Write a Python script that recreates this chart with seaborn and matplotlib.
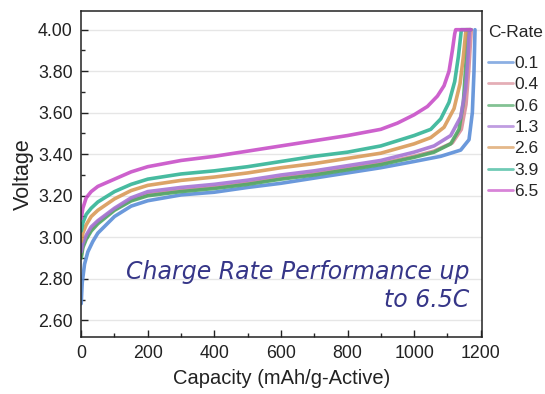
import numpy as np
import pandas as pd
import matplotlib
matplotlib.use("Agg")
import matplotlib.pyplot as plt
import seaborn as sns
from matplotlib.ticker import MultipleLocator, FormatStrFormatter

rates = ["0.1", "0.4", "0.6", "1.3", "2.6", "3.9", "6.5"]
colors = ["#5b8ed8", "#d98c98", "#4fa866", "#a574d4", "#d99a58", "#33b496", "#c850c8"]

cap_01 = [0, 3, 10, 20, 35, 50, 100, 150, 200, 300, 400, 500, 600, 700, 800, 900, 1000, 1080, 1140, 1165, 1175, 1180, 1183]
v_01 = [2.68, 2.78, 2.87, 2.93, 2.98, 3.02, 3.10, 3.15, 3.176, 3.204, 3.217, 3.24, 3.26, 3.285, 3.31, 3.335, 3.365, 3.39, 3.42, 3.47, 3.60, 3.80, 4.00]

cap_04 = [0, 5, 15, 30, 50, 100, 150, 200, 300, 400, 500, 600, 700, 800, 900, 1000, 1060, 1115, 1142, 1156, 1164, 1169, 1172]
v_04 = [2.91, 2.96, 3.00, 3.04, 3.075, 3.135, 3.18, 3.205, 3.225, 3.24, 3.26, 3.285, 3.305, 3.33, 3.355, 3.39, 3.415, 3.455, 3.52, 3.64, 3.80, 3.93, 4.00]

cap_06 = [0, 5, 15, 30, 50, 100, 150, 200, 300, 400, 500, 600, 700, 800, 900, 1000, 1060, 1110, 1135, 1148, 1155, 1160, 1163]
v_06 = [2.90, 2.95, 2.99, 3.03, 3.065, 3.13, 3.175, 3.20, 3.22, 3.235, 3.255, 3.28, 3.30, 3.325, 3.35, 3.385, 3.41, 3.45, 3.52, 3.65, 3.82, 3.95, 4.00]

cap_13 = [0, 5, 15, 30, 50, 100, 150, 200, 300, 400, 500, 600, 700, 800, 900, 1000, 1060, 1110, 1140, 1155, 1162, 1166, 1172]
v_13 = [2.93, 2.97, 3.01, 3.05, 3.08, 3.14, 3.19, 3.22, 3.24, 3.255, 3.275, 3.30, 3.32, 3.345, 3.37, 3.41, 3.44, 3.49, 3.58, 3.72, 3.87, 4.00, 4.00]

cap_26 = [0, 5, 15, 30, 50, 100, 150, 200, 300, 400, 500, 600, 700, 800, 900, 1000, 1050, 1090, 1120, 1138, 1148, 1154, 1156, 1170]
v_26 = [2.98, 3.02, 3.06, 3.10, 3.13, 3.185, 3.225, 3.25, 3.274, 3.29, 3.31, 3.335, 3.355, 3.38, 3.405, 3.45, 3.48, 3.53, 3.62, 3.74, 3.87, 3.97, 4.00, 4.00]

cap_39 = [0, 5, 15, 30, 50, 100, 150, 200, 300, 400, 500, 600, 700, 800, 900, 1000, 1050, 1080, 1105, 1122, 1133, 1140, 1142, 1170]
v_39 = [3.03, 3.07, 3.11, 3.14, 3.17, 3.22, 3.255, 3.28, 3.305, 3.32, 3.34, 3.365, 3.39, 3.41, 3.44, 3.49, 3.52, 3.57, 3.65, 3.75, 3.87, 3.97, 4.00, 4.00]

cap_65 = [0, 5, 15, 30, 50, 100, 150, 200, 300, 400, 500, 600, 700, 800, 900, 950, 1000, 1040, 1070, 1090, 1105, 1115, 1122, 1125, 1170]
v_65 = [3.09, 3.14, 3.19, 3.22, 3.245, 3.28, 3.315, 3.34, 3.37, 3.39, 3.415, 3.44, 3.465, 3.49, 3.52, 3.55, 3.59, 3.63, 3.68, 3.73, 3.80, 3.90, 3.98, 4.00, 4.00]

caps = [cap_01, cap_04, cap_06, cap_13, cap_26, cap_39, cap_65]
volts = [v_01, v_04, v_06, v_13, v_26, v_39, v_65]

frames = []
for r, c, v in zip(rates, caps, volts):
    frames.append(pd.DataFrame({"Capacity": c, "Voltage": v, "C-Rate": r}))
df = pd.concat(frames, ignore_index=True)

sns.set_style("ticks")
plt.rcParams["font.family"] = ["Liberation Sans", "DejaVu Sans"]

fig = plt.figure(figsize=(5.45, 3.94), dpi=100)
ax = fig.add_axes([0.149, 0.145, 0.736, 0.827])

sns.lineplot(data=df, x="Capacity", y="Voltage", hue="C-Rate", hue_order=rates,
             palette=colors, sort=False, estimator=None, units="C-Rate",
             linewidth=2.6, alpha=0.9, ax=ax, legend=True)
for ln in ax.get_lines():
    ln.set_solid_joinstyle("round")
    ln.set_solid_capstyle("round")

ax.set_xlim(0, 1205)
ax.set_ylim(2.52, 4.09)
ax.xaxis.set_major_locator(MultipleLocator(200))
ax.xaxis.set_minor_locator(MultipleLocator(100))
ax.yaxis.set_major_locator(MultipleLocator(0.2))
ax.yaxis.set_minor_locator(MultipleLocator(0.1))
ax.yaxis.set_major_formatter(FormatStrFormatter("%.2f"))
ax.tick_params(which="major", direction="in", length=5, width=1, labelsize=12.8, colors="#222222")
ax.tick_params(which="minor", direction="in", length=3, width=1)
ax.tick_params(axis="x", pad=6)
ax.tick_params(axis="y", pad=6)
ax.grid(axis="y", which="major", color="#e6e6e6", linewidth=1)
ax.set_axisbelow(True)
for s in ax.spines.values():
    s.set_color("#222222")
    s.set_linewidth(1.1)

ax.set_xlabel("Capacity (mAh/g-Active)", fontsize=14.5, color="#222222", labelpad=5)
ax.set_ylabel("Voltage", fontsize=15.5, color="#222222", labelpad=3)

ax.text(1166, 2.765, "Charge Rate Performance up\nto 6.5C", ha="right", va="center",
        multialignment="right", fontsize=17, style="italic", color="#363688",
        family=["DejaVu Sans"], linespacing=1.2)

h, l = ax.get_legend_handles_labels()
ax.get_legend().remove()
leg = fig.legend(h, l, title="C-Rate", loc="upper left", bbox_to_anchor=(0.893, 0.94),
                 frameon=False, fontsize=12.5, title_fontsize=12.5, handlelength=1.4,
                 handletextpad=0.1, labelspacing=0.36, borderaxespad=0, borderpad=0.1)
leg._legend_box.align = "left"
leg._legend_box.sep = 11
for line in leg.get_lines():
    line.set_linewidth(2)
    line.set_alpha(0.7)

fig.savefig("out.png", dpi=100, facecolor="white")
